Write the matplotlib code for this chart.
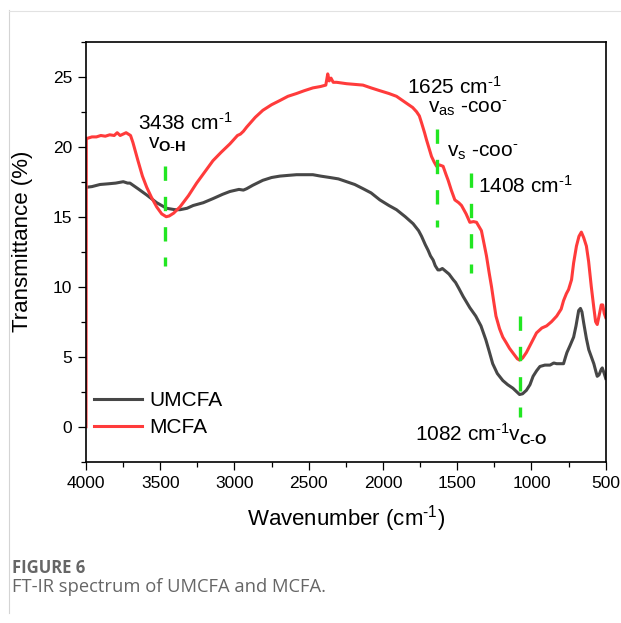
import numpy as np
import matplotlib.pyplot as plt
from matplotlib.lines import Line2D
from matplotlib.ticker import MultipleLocator

# MCFA spectrum (red)
mcfa_wn = [4000, 3998, 3990, 3960, 3930, 3900, 3870, 3840, 3810, 3790, 3770, 3750, 3730, 3715, 3700,
           3684, 3650, 3620, 3591, 3560, 3524, 3490, 3460, 3440, 3410, 3367, 3310, 3255, 3200, 3145,
           3090, 3031, 2980, 2960, 2940, 2918, 2860, 2809, 2750, 2694, 2640, 2582, 2530, 2472, 2420,
           2385, 2372, 2362, 2350, 2335, 2312, 2245, 2190, 2135, 2080, 2021, 1960, 1909, 1841, 1800,
           1774, 1755, 1740, 1720, 1707, 1690, 1673, 1655, 1639, 1620, 1595, 1575, 1561, 1540, 1516,
           1490, 1471, 1440, 1415, 1390, 1370, 1337, 1318, 1303, 1285, 1269, 1255, 1239, 1215, 1193,
           1170, 1148, 1120, 1095, 1080, 1060, 1034, 1000, 966, 930, 898, 865, 830, 800, 784,
           765, 750, 730, 716, 697, 680, 664, 648, 630, 615, 597, 580, 568, 557, 545,
           530, 520, 510, 500]
mcfa_t = [0.0, 20.6, 20.6, 20.7, 20.7, 20.8, 20.75, 20.85, 20.8, 21.0, 20.8, 20.9, 21.0, 20.9, 20.8,
          20.3, 19.0, 17.9, 17.1, 16.4, 15.7, 15.2, 15.0, 15.05, 15.25, 15.7, 16.5, 17.4, 18.2, 19.0,
          19.6, 20.2, 20.8, 20.9, 21.1, 21.4, 22.1, 22.6, 23.0, 23.3, 23.6, 23.8, 24.0, 24.2, 24.3,
          24.4, 25.2, 24.7, 24.9, 24.6, 24.6, 24.5, 24.45, 24.4, 24.2, 24.0, 23.8, 23.6, 23.1, 22.8,
          22.5, 22.2, 21.7, 21.0, 20.5, 19.9, 19.3, 18.9, 18.6, 18.7, 18.6, 18.0, 17.6, 16.9, 16.2,
          16.0, 15.8, 15.2, 14.6, 14.65, 14.6, 14.0, 13.0, 12.2, 11.0, 10.0, 9.0, 7.9, 7.0, 6.4,
          6.0, 5.6, 5.2, 4.85, 4.76, 4.9, 5.3, 6.0, 6.7, 7.05, 7.2, 7.5, 7.9, 8.4, 9.0,
          9.5, 9.8, 10.5, 11.7, 12.9, 13.6, 13.9, 13.5, 12.9, 11.8, 10.0, 8.5, 7.5, 7.3, 7.9,
          8.7, 8.7, 8.1, 7.8]

# UMCFA spectrum (dark grey)
umcfa_wn = [4000, 3960, 3906, 3850, 3800, 3749, 3720, 3704, 3650, 3591, 3524, 3457, 3400, 3367, 3320,
            3278, 3210, 3143, 3080, 3031, 2970, 2940, 2918, 2876, 2809, 2750, 2694, 2640, 2582, 2520,
            2472, 2420, 2358, 2300, 2245, 2190, 2134, 2080, 2021, 1960, 1909, 1850, 1797, 1760, 1740,
            1715, 1696, 1680, 1662, 1648, 1630, 1617, 1600, 1583, 1555, 1527, 1511, 1490, 1460, 1443,
            1415, 1375, 1340, 1307, 1285, 1261, 1230, 1193, 1160, 1125, 1100, 1080, 1060, 1034, 1010,
            989, 965, 943, 910, 875, 850, 830, 800, 784, 770, 761, 740, 716, 700, 682,
            670, 660, 648, 630, 614, 597, 580, 565, 557, 545, 530, 523, 510, 500]
umcfa_t = [17.1, 17.15, 17.3, 17.35, 17.4, 17.5, 17.4, 17.4, 17.0, 16.55, 16.0, 15.6, 15.5, 15.5, 15.6,
           15.8, 16.0, 16.3, 16.6, 16.8, 16.95, 16.9, 17.0, 17.25, 17.6, 17.8, 17.9, 17.95, 18.0, 18.0,
           18.0, 17.9, 17.8, 17.7, 17.5, 17.3, 17.0, 16.7, 16.2, 15.8, 15.5, 15.0, 14.5, 14.0, 13.6,
           13.0, 12.6, 12.2, 11.9, 11.5, 11.2, 11.2, 11.3, 11.15, 10.9, 10.5, 10.3, 9.9, 9.3, 9.0,
           8.5, 7.9, 7.2, 6.2, 5.4, 4.5, 3.8, 3.3, 3.0, 2.75, 2.5, 2.3, 2.35, 2.6, 3.0,
           3.6, 4.0, 4.3, 4.4, 4.4, 4.55, 4.5, 4.5, 4.5, 5.0, 5.3, 5.8, 6.4, 7.2, 8.3,
           8.45, 8.2, 7.4, 6.3, 5.5, 5.0, 4.5, 3.9, 3.6, 3.7, 4.1, 4.2, 3.8, 3.45]

# band markers: position, lower and upper end of the dashed line
mark_wn = [3468, 1635, 1404, 1080]
mark_lo = [11.5, 14.3, 11.0, 0.7]
mark_hi = [18.6, 21.3, 18.1, 7.9]

plt.rcParams['font.family'] = ['Liberation Sans', 'DejaVu Sans']
plt.rcParams['mathtext.fontset'] = 'custom'
plt.rcParams['mathtext.rm'] = 'Liberation Sans'
plt.rcParams['mathtext.it'] = 'Liberation Sans:italic'
plt.rcParams['mathtext.bf'] = 'Liberation Sans:bold'
plt.rcParams['mathtext.default'] = 'regular'

fig = plt.figure(figsize=(6.21, 6.23), dpi=100)
ax = fig.add_axes([86 / 621, 1 - 461.7 / 623, 519.7 / 621, 420 / 623])

ax.plot(umcfa_wn, umcfa_t, color='#474747', lw=2.2, label='UMCFA')
ax.plot(mcfa_wn, mcfa_t, color='#ff3b3b', lw=2.2, label='MCFA')

for w, lo, hi in zip(mark_wn, mark_lo, mark_hi):
    ax.plot([w, w], [hi, lo], color='#22e622', lw=2.4, dashes=(4.3, 4.8), zorder=5)

ax.set_xlim(4000, 500)
ax.set_ylim(-2.5, 27.5)
ax.xaxis.set_major_locator(MultipleLocator(500))
ax.xaxis.set_minor_locator(MultipleLocator(250))
ax.set_yticks([0, 5, 10, 15, 20, 25])
ax.yaxis.set_minor_locator(MultipleLocator(2.5))
ax.tick_params(which='major', direction='out', length=6, width=0.9, labelsize=12.5, pad=4)
ax.tick_params(which='minor', direction='out', length=3.3, width=0.9)
for s in ax.spines.values():
    s.set_linewidth(1.2)

fs = 15
ax.text(3648, 21.2, r'3438 cm$^{\text{-}1}$', fontsize=fs)
ax.text(3585, 19.85, r'v$_{\mathbf{O\text{-}H}}$', fontsize=fs)
ax.text(1841, 23.8, r'1625 cm$^{\text{-}1}$', fontsize=fs)
ax.text(1700, 22.4, r'v$_{as}$ -coo$^{\text{-}}$', fontsize=fs)
ax.text(1570, 19.3, r'v$_{s}$ -coo$^{\text{-}}$', fontsize=fs)
ax.text(1359, 16.7, r'1408 cm$^{\text{-}1}$', fontsize=fs)
ax.text(1784, -1.07, r'1082 cm$^{\text{-}1}$v$_{\mathbf{C\text{-}O}}$', fontsize=fs)

ax.legend(loc='lower left', bbox_to_anchor=(0.0154, 0.0588), frameon=False, fontsize=fs,
          handlelength=2.3, handletextpad=0.35, labelspacing=0.39, borderaxespad=0,
          borderpad=0)

fig.text(23 / 621, 1 - 241.7 / 623, 'Transmittance (%)', rotation=90, ha='center',
         va='center', fontsize=16)
fig.text(345.8 / 621, 1 - 526 / 623, r'Wavenumber (cm$^{\text{-}1}$)', ha='center',
         va='baseline', fontsize=16)

# caption and page border
fig.text(12 / 621, 1 - 573 / 623, 'FIGURE 6', fontsize=12, fontweight='bold',
         color='#666666', family='Open Sans', va='baseline')
fig.text(12 / 621, 1 - 591.7 / 623, 'FT-IR spectrum of UMCFA and MCFA.', fontsize=13.2,
         color='#666666', family='Open Sans', va='baseline')
fig.add_artist(Line2D([9 / 621, 9 / 621], [1 - 613 / 623, 1 - 10 / 623],
                      transform=fig.transFigure, color='#d4d4d4', lw=0.8))
fig.add_artist(Line2D([9 / 621, 1], [1 - 10.5 / 623, 1 - 10.5 / 623],
                      transform=fig.transFigure, color='#e2e2e2', lw=0.8))

fig.savefig('out.png', dpi=100)
